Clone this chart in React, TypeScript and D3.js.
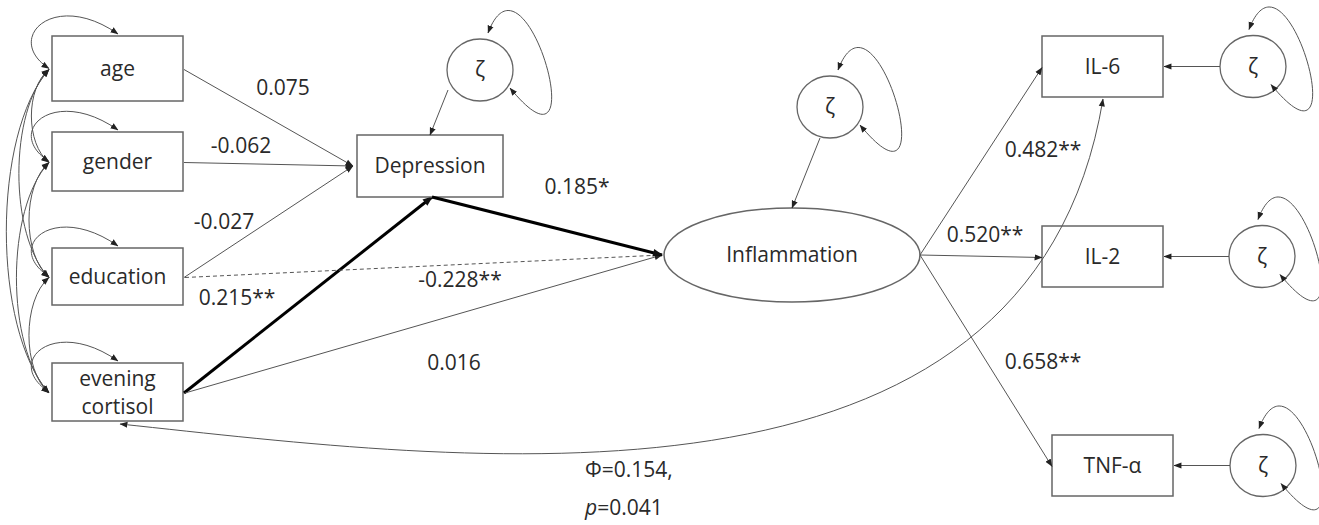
import React from "react";
import * as d3 from "d3";

// path model values
const covariates = ["age", "gender", "education", "evening cortisol"];
const covToDepression = ["0.075", "-0.062", "-0.027", "0.215**"];
const covToInflammation = ["", "", "-0.228**", "0.016"];
const depToInflammation = "0.185*";
const markers = ["IL-6", "IL-2", "TNF-α"];
const loadings = ["0.482**", "0.520**", "0.658**"];
const phiLabel = "Φ=0.154,";
const pLabel = "0.041";

const W = 1319;
const H = 525;
const FONT = "'Open Sans', 'Noto Sans', sans-serif";
const LINE = "#555";
const BOX = "#666";
const TEXT = "#2a2a2a";

// layout of the diagram
const leftX = 52;
const leftW = 131;
const leftTop = d3.scaleOrdinal<string, number>().domain(covariates).range([36, 132, 248, 363]);
const leftH = d3.scaleOrdinal<string, number>().domain(covariates).range([65, 59, 57, 58]);
const depBox = { x: 357, y: 135, w: 146, h: 62 };
const inf = { cx: 792, cy: 255, rx: 128, ry: 47 };
const rightX = d3.scaleOrdinal<string, number>().domain(markers).range([1042, 1042, 1052]);
const rightTop = d3.scaleOrdinal<string, number>().domain(markers).range([36, 226, 435]);
const rightW = 121;
const rightH = 61;
const zetaX = d3.scaleOrdinal<string, number>().domain(markers).range([1253, 1262, 1263]);
const zetaDep = { cx: 480, cy: 70 };
const zetaInf = { cx: 830, cy: 107 };
const zr = { rx: 33, ry: 31 };

const depLabelPos = [[283, 95], [241, 153], [224, 229], [237, 305]];
const infLabelPos = [null, null, [460, 287], [454, 370]];
const loadLabelPos = [[1043, 157], [985, 242], [1043, 369]];

function seg(x1: number, y1: number, x2: number, y2: number) {
  const p = d3.path();
  p.moveTo(x1, y1);
  p.lineTo(x2, y2);
  return p.toString();
}

function selfLoop(cx: number, cy: number) {
  const p = d3.path();
  p.moveTo(cx + 8, cy - zr.ry - 6);
  p.bezierCurveTo(cx + 45, cy - 135, cx + 118, cy + 125, cx + 30, cy + 18);
  return p.toString();
}

function boxLoop(top: number, cy: number) {
  const x0 = leftX - 3;
  const p = d3.path();
  p.moveTo(x0, cy);
  p.bezierCurveTo(x0 - 46, cy - 30, x0 + 5, top - 47, x0 + 69, top - 2);
  return p.toString();
}

function covArc(y1: number, y2: number) {
  const x0 = leftX - 3;
  const dy = Math.abs(y2 - y1);
  const off = 10 + 0.145 * dy;
  const p = d3.path();
  p.moveTo(x0, y1);
  p.bezierCurveTo(x0 - off, y1 + dy * 0.2, x0 - off, y2 - dy * 0.2, x0, y2);
  return p.toString();
}

export default function App() {
  const rowCy = (c: string) => leftTop(c) + leftH(c) / 2;
  const depIn = { x: depBox.x - 4, y: depBox.y + 31 };
  const depBottom = { x: 432, y: depBox.y + depBox.h };
  const infLeft = { x: inf.cx - inf.rx - 2, y: inf.cy };
  const infRight = { x: inf.cx + inf.rx, y: inf.cy };
  const cort = covariates[3];
  const il6 = markers[0];

  const pairs: [string, string][] = [];
  covariates.forEach((a, i) => covariates.slice(i + 1).forEach((b) => pairs.push([a, b])));

  const txt = {
    fontFamily: FONT,
    fontSize: 21,
    fill: TEXT,
  } as React.CSSProperties;

  // long covariance cortisol <-> IL-6
  const covLong = d3.path();
  covLong.moveTo(leftX + 68, leftTop(cort) + leftH(cort) + 3);
  covLong.bezierCurveTo(460, 460, 1030, 540, rightX(il6) + 61, rightTop(il6) + rightH + 2);

  return (
    <svg width={W} height={H} style={{ display: "block", position: "absolute", left: 0, top: 0, background: "#fff" }}>
      <defs>
        <marker id="ah" viewBox="0 -4 9 8" refX="8.5" refY="0" markerWidth="8" markerHeight="7"
          markerUnits="userSpaceOnUse" orient="auto-start-reverse">
          <path d="M0,-3.5L9,0L0,3.5Z" fill="#222" />
        </marker>
        <marker id="ahb" viewBox="0 -4 9 8" refX="8" refY="0" markerWidth="11" markerHeight="9"
          markerUnits="userSpaceOnUse" orient="auto">
          <path d="M0,-3.5L9,0L0,3.5Z" fill="#111" />
        </marker>
      </defs>

      {/* covariates */}
      {covariates.map((c) => (
        <g key={c}>
          <rect x={leftX} y={leftTop(c)} width={leftW} height={leftH(c)} fill="none" stroke={BOX} strokeWidth={1.5} />
          <path d={boxLoop(leftTop(c), rowCy(c))} fill="none" stroke={LINE} strokeWidth={1}
            markerStart="url(#ah)" markerEnd="url(#ah)" />
          {c === cort ? (
            <text x={leftX + leftW / 2} textAnchor="middle" style={txt}>
              <tspan x={leftX + leftW / 2} y={leftTop(c) + 23}>evening</tspan>
              <tspan x={leftX + leftW / 2} y={leftTop(c) + 51}>cortisol</tspan>
            </text>
          ) : (
            <text x={leftX + leftW / 2} y={rowCy(c) + 7} textAnchor="middle" style={txt}>{c}</text>
          )}
        </g>
      ))}
      {pairs.map(([a, b]) => (
        <path key={a + b} d={covArc(rowCy(a) + 1, rowCy(b) + 1)} fill="none" stroke={LINE} strokeWidth={1}
          markerStart="url(#ah)" markerEnd="url(#ah)" />
      ))}

      {/* covariates -> Depression */}
      {covariates.map((c, i) => {
        const thick = i === 3;
        const end = thick ? depBottom : depIn;
        return (
          <path key={"d" + c} d={seg(leftX + leftW + 1, rowCy(c) + 1, end.x, end.y)}
            stroke={thick ? "#000" : LINE} strokeWidth={thick ? 3 : 1}
            markerEnd={thick ? "url(#ahb)" : "url(#ah)"} />
        );
      })}
      {covToDepression.map((v, i) => (
        <text key={"ld" + i} x={depLabelPos[i][0]} y={depLabelPos[i][1]} textAnchor="middle" style={txt}>{v}</text>
      ))}

      {/* covariates -> Inflammation */}
      {covToInflammation.map((v, i) =>
        v ? (
          <g key={"i" + i}>
            <path d={seg(leftX + leftW + 2, rowCy(covariates[i]) + 1, infLeft.x, infLeft.y)} stroke={LINE}
              strokeWidth={1} strokeDasharray={i === 2 ? "4,3" : undefined} markerEnd="url(#ah)" />
            <text x={infLabelPos[i]![0]} y={infLabelPos[i]![1]} textAnchor="middle" style={txt}>{v}</text>
          </g>
        ) : null
      )}

      {/* Depression */}
      <rect x={depBox.x} y={depBox.y} width={depBox.w} height={depBox.h} fill="#fff" stroke={BOX} strokeWidth={1.5} />
      <text x={depBox.x + depBox.w / 2} y={depBox.y + 38} textAnchor="middle" style={txt}>Depression</text>
      <path d={seg(depBottom.x, depBottom.y, infLeft.x, infLeft.y)} stroke="#000" strokeWidth={3} markerEnd="url(#ahb)" />
      <text x={577} y={194} textAnchor="middle" style={txt}>{depToInflammation}</text>

      {/* disturbance of Depression */}
      <ellipse cx={zetaDep.cx} cy={zetaDep.cy} rx={zr.rx} ry={zr.ry} fill="none" stroke={BOX} strokeWidth={1.3} />
      <text x={zetaDep.cx} y={zetaDep.cy + 7} textAnchor="middle" style={txt}>ζ</text>
      <path d={selfLoop(zetaDep.cx, zetaDep.cy)} fill="none" stroke={LINE} strokeWidth={1}
        markerStart="url(#ah)" markerEnd="url(#ah)" />
      <path d={seg(zetaDep.cx - 32, zetaDep.cy + 20, depBottom.x - 2, depBox.y)} stroke={LINE} strokeWidth={1}
        markerEnd="url(#ah)" />

      {/* Inflammation */}
      <ellipse cx={inf.cx} cy={inf.cy} rx={inf.rx} ry={inf.ry} fill="none" stroke={BOX} strokeWidth={1.5} />
      <text x={inf.cx} y={inf.cy + 7} textAnchor="middle" style={txt}>Inflammation</text>
      <ellipse cx={zetaInf.cx} cy={zetaInf.cy} rx={zr.rx} ry={zr.ry} fill="none" stroke={BOX} strokeWidth={1.3} />
      <text x={zetaInf.cx} y={zetaInf.cy + 7} textAnchor="middle" style={txt}>ζ</text>
      <path d={selfLoop(zetaInf.cx, zetaInf.cy)} fill="none" stroke={LINE} strokeWidth={1}
        markerStart="url(#ah)" markerEnd="url(#ah)" />
      <path d={seg(zetaInf.cx - 10, zetaInf.cy + zr.ry, inf.cx, inf.cy - inf.ry)} stroke={LINE} strokeWidth={1}
        markerEnd="url(#ah)" />

      {/* indicators */}
      {markers.map((m, i) => {
        const bx = rightX(m);
        const by = rightTop(m);
        const cy = by + rightH / 2;
        const zx = zetaX(m);
        return (
          <g key={m}>
            <rect x={bx} y={by} width={rightW} height={rightH} fill="none" stroke={BOX} strokeWidth={1.5} />
            <text x={bx + rightW / 2} y={cy + 7} textAnchor="middle" style={txt}>{m}</text>
            <path d={seg(infRight.x, infRight.y, bx, cy + 1)} stroke={LINE} strokeWidth={1} markerEnd="url(#ah)" />
            <text x={loadLabelPos[i][0]} y={loadLabelPos[i][1]} textAnchor="middle" style={txt}>{loadings[i]}</text>
            <ellipse cx={zx} cy={cy} rx={zr.rx} ry={zr.ry} fill="none" stroke={BOX} strokeWidth={1.3} />
            <text x={zx} y={cy + 7} textAnchor="middle" style={txt}>ζ</text>
            <path d={selfLoop(zx - 12, cy)} fill="none" stroke={LINE} strokeWidth={1}
              markerStart="url(#ah)" markerEnd="url(#ah)" />
            <path d={seg(zx - zr.rx, cy, bx + rightW + 1, cy)} stroke={LINE} strokeWidth={1} markerEnd="url(#ah)" />
          </g>
        );
      })}

      {/* covariance evening cortisol <-> IL-6 */}
      <path d={covLong.toString()} fill="none" stroke={LINE} strokeWidth={1} markerStart="url(#ah)" markerEnd="url(#ah)" />
      <text x={585} y={477} style={txt}>{phiLabel}</text>
      <text x={585} y={515} style={txt}>
        <tspan fontStyle="italic">p</tspan>={pLabel}
      </text>
    </svg>
  );
}
